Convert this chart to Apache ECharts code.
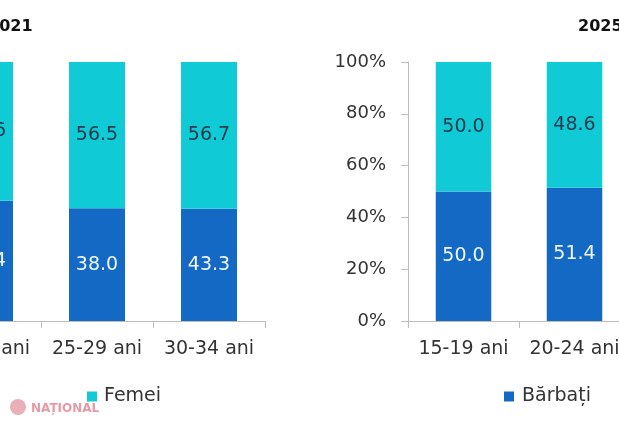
<!DOCTYPE html>
<html>
<head>
<meta charset="utf-8">
<script src="https://cdn.jsdelivr.net/npm/echarts@6/dist/echarts.min.js"></script>
<style>
    html, body { margin: 0; padding: 0; background: #fff; }
    #chart { width: 619px; height: 421px; }
</style>
</head>
<body>
<div id="chart"></div>
<script>
// 2021 (stanga, taiat in poza)
var categories2021 = ["20-24 ani", "25-29 ani", "30-34 ani"];
var barbati2021 = [46.4, 43.5, 43.3];
var barbatiLabels2021 = ["46.4", "38.0", "43.3"];
var femei2021 = [53.6, 56.5, 56.7];

// 2025 (dreapta, taiat in poza)
var categories2025 = ["15-19 ani", "20-24 ani"];
var barbati2025 = [50.0, 51.4];
var femei2025 = [50.0, 48.6];

var yTicks = [0, 20, 40, 60, 80, 100];

var blue = "#1469c4";
var cyan = "#10cbd6";
var font = "DejaVu Sans";

function buildSerie(name, data, axisIndex, stack, color, labelColor, labels) {
    var serieData = new Array();
    for (var i = 0; i < data.length; i++) {
        serieData.push({value: data[i], label: {formatter: labels ? labels[i] : data[i].toFixed(1)}});
    }
    return {
        name: name,
        type: "bar",
        stack: stack,
        xAxisIndex: axisIndex,
        yAxisIndex: axisIndex,
        barWidth: "50%",
        itemStyle: {color: color},
        label: {
            show: true,
            position: "inside",
            color: labelColor,
            fontFamily: font,
            fontSize: 19
        },
        data: serieData
    };
}

function buildXAxis(gridIndex, data) {
    return {
        type: "category",
        gridIndex: gridIndex,
        data: data,
        axisLine: {lineStyle: {color: "#bdbdbd", width: 1}},
        axisTick: {show: true, length: 7, lineStyle: {color: "#bdbdbd"}},
        axisLabel: {color: "#333", fontFamily: font, fontSize: 19, margin: 19, interval: 0, hideOverlap: false}
    };
}

function buildYAxis(gridIndex) {
    return {
        type: "value",
        gridIndex: gridIndex,
        min: yTicks[0],
        max: yTicks[yTicks.length - 1],
        interval: yTicks[1] - yTicks[0],
        splitLine: {show: false},
        axisLine: {show: true, lineStyle: {color: "#bdbdbd", width: 1}},
        axisTick: {show: true, length: 7, lineStyle: {color: "#bdbdbd"}},
        axisLabel: {color: "#333", fontFamily: font, fontSize: 18, margin: 22, formatter: "{value}%"}
    };
}

var option = {
    animation: false,
    backgroundColor: "#fff",
    grid: [
        {left: -71, right: 354, top: 62, bottom: 100, containLabel: false, outerBoundsMode: "none"},
        {left: 408, right: -11, top: 62, bottom: 100, containLabel: false, outerBoundsMode: "none"}
    ],
    xAxis: [buildXAxis(0, categories2021), buildXAxis(1, categories2025)],
    yAxis: [buildYAxis(0), buildYAxis(1)],
    legend: [
        {
            data: ["Femei"],
            left: 87, top: 387, padding: 0,
            icon: "rect", itemWidth: 10, itemHeight: 10, itemGap: 7,
            textStyle: {color: "#333", fontFamily: font, fontSize: 19, padding: [0, 0, 0, 2]}
        },
        {
            data: ["Bărbați"],
            left: 504, top: 387, padding: 0,
            icon: "rect", itemWidth: 10, itemHeight: 10, itemGap: 7,
            textStyle: {color: "#333", fontFamily: font, fontSize: 19, padding: [0, 0, 0, 3]}
        }
    ],
    graphic: [
        {type: "text", x: -12, y: 19, style: {text: "2021", fill: "#111", font: "bold 16px " + font}},
        {type: "text", x: 578, y: 19, style: {text: "2025", fill: "#111", font: "bold 16px " + font}},
        {type: "circle", shape: {cx: 18, cy: 407, r: 8}, style: {fill: "#eab0b9"}},
        {type: "text", x: 31, y: 403, style: {text: "NAȚIONAL", fill: "#e59aa6", font: "bold 12px " + font}}
    ],
    series: [
        buildSerie("Bărbați", barbati2021, 0, "a", blue, "#eef6ff", barbatiLabels2021),
        buildSerie("Femei", femei2021, 0, "a", cyan, "#1d3a4c"),
        buildSerie("Bărbați", barbati2025, 1, "b", blue, "#eef6ff"),
        buildSerie("Femei", femei2025, 1, "b", cyan, "#1d3a4c")
    ]
};

var chart = echarts.init(document.getElementById("chart"));
chart.setOption(option);
</script>
</body>
</html>
